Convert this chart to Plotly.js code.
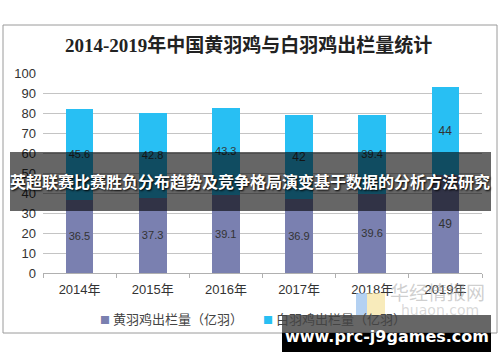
<!DOCTYPE html>
<html><head><meta charset="utf-8">
<script src="https://cdn.plot.ly/plotly-3.0.1.min.js"></script>
<style>html,body{margin:0;padding:0;background:#fff}#c{width:500px;height:362px}</style>
</head><body><div id="c"></div>
<script>
const years = ['2014年','2015年','2016年','2017年','2018年','2019年'];
const yellowFeather = [36.5, 37.3, 39.1, 36.9, 39.6, 49];
const whiteFeather = [45.6, 42.8, 43.3, 42, 39.4, 44];
const seriesNames = ['黄羽鸡出栏量（亿羽）','白羽鸡出栏量（亿羽）'];
const seriesColors = ['#7a80b0','#28bff3'];
const chartTitle = '2014-2019年中国黄羽鸡与白羽鸡出栏量统计';
const bannerText = '英超联赛比赛胜负分布趋势及竞争格局演变基于数据的分析方法研究';
const siteText = 'www.prc-j9games.com';

// pixel -> paper helpers (plot area x 43..482, y 73..273)
const L=43, R=482, T=73, B=273;
const px = v => (v-L)/(R-L);
const py = v => (B-v)/(B-T);

const labelFont = {family:'Liberation Sans, Arial, sans-serif', size:12, color:'#333'};
const traces = [
  {type:'bar', x:years, y:yellowFeather, name:seriesNames[0], marker:{color:seriesColors[0]},
   text:yellowFeather.map(String), textposition:'inside', insidetextanchor:'middle',
   textfont:labelFont, hoverinfo:'none', textangle:0},
  {type:'bar', x:years, y:whiteFeather, name:seriesNames[1], marker:{color:seriesColors[1]},
   text:whiteFeather.map(String), textposition:'inside', insidetextanchor:'middle',
   textfont:labelFont, hoverinfo:'none', textangle:0}
];

const rect = (x0,y0,x1,y1,fill,line) => ({type:'rect', xref:'paper', yref:'paper',
  x0:px(x0), x1:px(x1), y0:py(y1), y1:py(y0), fillcolor:fill||'rgba(0,0,0,0)',
  line: line||{width:0}, layer:'above'});

const legendItem = (i, xStart) => ({
  text:'<span style="color:'+seriesColors[i]+';font-size:10px">■</span> '+seriesNames[i],
  xref:'paper', yref:'paper', x:px(xStart), y:py(318), showarrow:false,
  xanchor:'left', yanchor:'middle',
  font:{family:'Noto Sans CJK SC, sans-serif', size:13, color:'#444'}});

const layout = {
  width:500, height:362,
  margin:{l:L, r:500-R, t:T, b:362-B, pad:0},
  paper_bgcolor:'#fff', plot_bgcolor:'#fff',
  barmode:'stack', bargap:0.62,
  showlegend:false,
  xaxis:{type:'category', showline:true, linecolor:'#b0b0b0', linewidth:1,
    ticks:'outside', tickson:'boundaries', ticklen:4, tickcolor:'#b0b0b0',
    ticklabelstandoff:4,
    tickfont:{family:'Liberation Sans, Noto Sans CJK SC, sans-serif', size:13, color:'#333'},
    showgrid:false, fixedrange:true},
  yaxis:{range:[0,100], dtick:10, showgrid:true, gridcolor:'#c4c4c4', gridwidth:1,
    zeroline:false, showline:false, ticks:'', ticklabelstandoff:6,
    tickfont:{family:'Liberation Sans, Arial, sans-serif', size:13, color:'#333'}, fixedrange:true},
  shapes:[
    rect(3,25,497,333,null,{color:'#9a9a9a', width:1}),
    // faint logo squares
    rect(356,293,367,315,'rgba(140,185,235,0.65)'),
    rect(367,293,385,315,'rgba(245,225,150,0.65)'),
    // banner
    rect(10,152,491,211,'rgba(0,0,0,0.6)'),
    // bottom watermark box
    rect(282,315,491,333,'rgba(0,0,0,0.6)'),
    rect(282,333,491,352,'#000')
  ],
  annotations:[
    {text:'<b>'+chartTitle+'</b>', xref:'paper', yref:'paper', x:px(248), y:py(45),
     showarrow:false, xanchor:'center', yanchor:'middle',
     font:{family:'Liberation Serif, Noto Sans CJK SC, serif', size:19, color:'#222'}},
    legendItem(0, 98),
    legendItem(1, 261),
    {text:'华经情报网', xref:'paper', yref:'paper', x:px(437), y:py(291),
     showarrow:false, xanchor:'center', yanchor:'middle',
     font:{family:'Noto Sans CJK SC, sans-serif', size:19, color:'rgba(160,160,160,0.5)'}},
    {text:'huaon.com', xref:'paper', yref:'paper', x:px(440), y:py(310),
     showarrow:false, xanchor:'center', yanchor:'middle',
     font:{family:'DejaVu Sans, sans-serif', size:14, color:'rgba(170,170,170,0.45)'}},
    {text:'<b>'+bannerText+'</b>', xref:'paper', yref:'paper', x:px(250), y:py(181),
     showarrow:false, xanchor:'center', yanchor:'middle',
     font:{family:'Noto Sans CJK SC, sans-serif', size:16, color:'#fff', shadow:'1px 1px 2px #000'}},
    {text:'<b>'+siteText+'</b>', xref:'paper', yref:'paper', x:px(387), y:py(336),
     showarrow:false, xanchor:'center', yanchor:'middle',
     font:{family:'DejaVu Sans, sans-serif', size:16, color:'#fff'}}
  ]
};
Plotly.newPlot('c', traces, layout, {staticPlot:true, displayModeBar:false});
</script></body></html>
